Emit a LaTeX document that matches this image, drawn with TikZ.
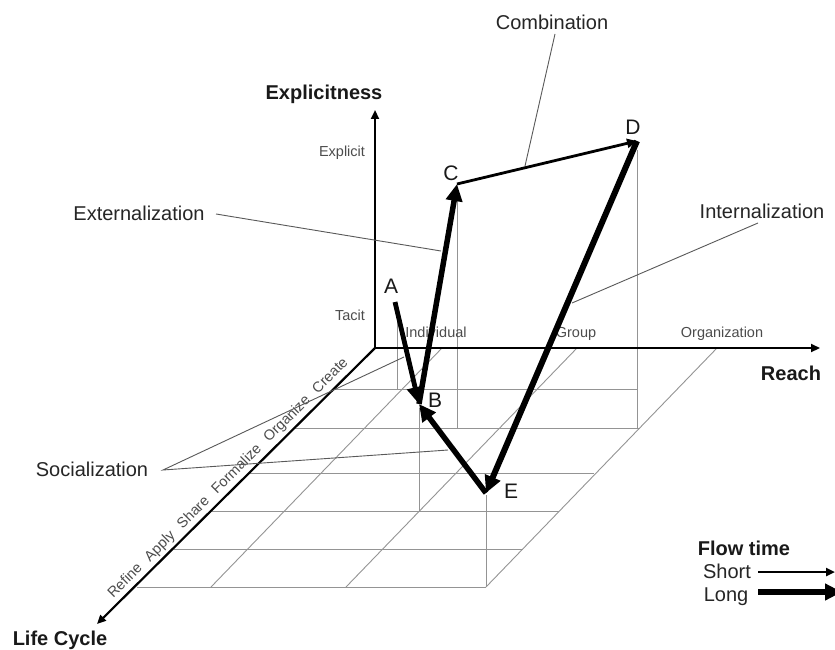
\documentclass[tikz,border=0pt]{standalone}
\usepackage{fontspec}
\setmainfont{Liberation Sans}
\usetikzlibrary{arrows.meta}
\begin{document}
\begin{tikzpicture}[x=1pt,y=-1pt,
  gridline/.style={draw=black!42, line width=0.9pt},
  leader/.style={draw=black!65, line width=0.9pt},
  axisline/.style={draw=black, line width=2.2pt, -{Triangle[length=9pt,width=8pt]}},
  flowlong/.style={draw=black, line width=5.5pt, -{Triangle[length=17pt,width=16pt]}},
  flowshort/.style={draw=black, line width=2.8pt, -{Triangle[length=10pt,width=9pt]}},
  biglbl/.style={font=\fontsize{20}{24}\selectfont, text=black!85, inner sep=0pt, anchor=base},
  smalllbl/.style={font=\fontsize{14.5}{17}\selectfont, text=black!70, inner sep=0pt, anchor=base},
  axlbl/.style={font=\fontsize{20}{24}\selectfont\bfseries, text=black!90, inner sep=0pt, anchor=base},
  ptlbl/.style={font=\fontsize{21}{24}\selectfont, text=black!90, inner sep=0pt, anchor=base},
]
\useasboundingbox (0,0) rectangle (835,650);
\fill[white] (0,0) rectangle (835,650);
\clip (0,0) rectangle (835,650);

% ---- floor grid ----
\draw[gridline] (334,389) -- (638,389);
\draw[gridline] (295,428) -- (640,428);
\draw[gridline] (250,473) -- (594,473);
\draw[gridline] (212,511) -- (559,511);
\draw[gridline] (174,549) -- (523,549);
\draw[gridline] (137,587) -- (486,587);
\draw[gridline] (442,348) -- (211,587);
\draw[gridline] (577,348) -- (346,587);
\draw[gridline] (717,348) -- (486,587);
% projection lines
\draw[gridline] (397,304) -- (397,389);
\draw[gridline] (419,408) -- (419,511);
\draw[gridline] (457,195) -- (457,428);
\draw[gridline] (637,150) -- (637,428);
\draw[gridline] (486,495) -- (486,587);

% ---- axes ----
\coordinate (O) at (375,348);
\coordinate (Ytip) at (375,110);
\coordinate (Xtip) at (820,348);
\coordinate (Ztip) at (97,624);
\draw[axisline] (O) -- (Ytip);
\draw[axisline] (O) -- (Xtip);
\draw[axisline] (O) -- (Ztip);

% ---- axis labels ----
\node[axlbl] (explicitness) at (324,100) {Explicitness};
\node[axlbl] (reach) at (791,380) {Reach};
\node[axlbl] (lifecycle) at (60,645) {Life Cycle};
\node[smalllbl] (explicit) at (342,157) {Explicit};
\node[smalllbl] (tacit) at (350,320) {Tacit};
\node[smalllbl] (individual) at (436,337) {Individual};
\node[smalllbl] (group) at (576,337) {Group};
\node[smalllbl] (organization) at (722,337) {Organization};
\node[smalllbl, rotate=45] (stages) at (231,481)
  {Refine\hspace{10pt}Apply\hspace{10pt}Share\hspace{10pt}Formalize\hspace{10pt}Organize\hspace{10pt}Create};

% ---- points ----
\coordinate (pA) at (395,302);
\coordinate (pB) at (419,404);
\coordinate (pC) at (457,184);
\coordinate (pD) at (637,141);
\coordinate (pE) at (486,493);

% ---- leader lines ----
\node[biglbl] (comb) at (552,30) {Combination};
\node[biglbl] (ext) at (139,220) {Externalization};
\node[biglbl] (int) at (762,218) {Internalization};
\node[biglbl] (soc) at (92,476) {Socialization};
\coordinate (combS) at (555,34);
\coordinate (combE) at (525,166);
\coordinate (extS) at (216,214);
\coordinate (extE) at (441,251);
\coordinate (intS) at (758,223);
\coordinate (intE) at (572,303);
\coordinate (socS) at (163,470);
\coordinate (socE1) at (404,357);
\coordinate (socE2) at (448,450);
\draw[leader] (combS) -- (combE);
\draw[leader] (extS) -- (extE);
\draw[leader] (intS) -- (intE);
\draw[leader] (socE1) -- (socS) -- (socE2);

% ---- flow arrows ----
\draw[flowlong, line width=4.8pt] (pA) -- (pB);
\draw[flowlong] (pB) -- (pC);
\draw[flowshort] (pC) -- (pD);
\draw[flowlong, line width=6pt] (pD) -- (pE);
\draw[flowlong] (pE) -- (pB);

\node[ptlbl] (lA) at (391,293) {A};
\node[ptlbl] (lB) at (435,407) {B};
\node[ptlbl] (lC) at (451,180) {C};
\node[ptlbl] (lD) at (633,135) {D};
\node[ptlbl] (lE) at (511,498) {E};

% ---- legend ----
\node[axlbl] (flowtime) at (744,555) {Flow time};
\node[biglbl] (short) at (727,578) {Short};
\node[biglbl] (long) at (726,601) {Long};
\coordinate (shortS) at (758,572);
\coordinate (shortE) at (835,572);
\coordinate (longS) at (758,592);
\coordinate (longE) at (842,592);
\draw[flowshort, line width=2.4pt, -{Triangle[length=9pt,width=8pt]}] (shortS) -- (shortE);
\draw[flowlong, line width=6pt] (longS) -- (longE);
\end{tikzpicture}
\end{document}
